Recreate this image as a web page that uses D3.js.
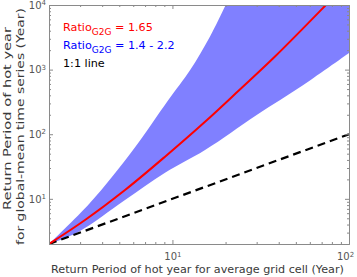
<!DOCTYPE html>
<html>
<head>
<meta charset="utf-8">
<script src="https://cdn.jsdelivr.net/npm/d3@7"></script>
<style>
  body { margin: 0; background: #fff; }
  text { font-family: "DejaVu Sans", sans-serif; }
</style>
</head>
<body>
<svg width="357" height="277"></svg>
<script>
// values (return periods, years)
const ratioX = [2, 3.2, 5.39, 9.08, 15.3, 24.1, 38.1, 73.1, 83.4];
const ratioY = [2, 4.7, 13.7, 44.9, 156, 493, 1596, 9660, 14060];

const upperX = [2, 3.41, 5.98, 9.48, 12.6, 16.3, 19.9, 21.2];
const upperY = [2, 8.6, 57, 339, 987, 3240, 9660, 13960];

const lowerX = [2, 2.93, 5.39, 9.08, 15.3, 30, 55.1, 100];
const lowerY = [2, 3.07, 9.6, 25.4, 57, 199, 579, 1810];

const oneX = [2, 100];
const oneY = [2, 100];

const xTicks = [10, 100];
const yTicks = [10, 100, 1000, 10000];
const xMinor = [2, 3, 4, 5, 6, 7, 8, 9, 20, 30, 40, 50, 60, 70, 80, 90];
const yMinor = [2, 3, 4, 5, 6, 7, 8, 9, 20, 30, 40, 50, 60, 70, 80, 90,
  200, 300, 400, 500, 600, 700, 800, 900, 2000, 3000, 4000, 5000, 6000, 7000, 8000, 9000];

const plotL = 49, plotR = 349, plotT = 5, plotB = 244;
const axisColor = "#8a8a8a";
const labelColor = "#3a3a3a";

const x = d3.scaleLog().domain([2, 100]).range([plotL, plotR]);
const y = d3.scaleLog().domain([2, 10000]).range([plotB, plotT]);

const svg = d3.select("svg");

svg.append("clipPath").attr("id", "plot")
  .append("rect")
  .attr("x", plotL).attr("y", plotT)
  .attr("width", plotR - plotL).attr("height", plotB - plotT);

const pts = (xs, ys) => xs.map((v, i) => [v, ys[i]]);

const line = d3.line()
  .x(d => x(d[0]))
  .y(d => y(d[1]))
  .curve(d3.curveCatmullRom);

// blue band between the two ratio bounds, closed through the top-right corner
const upperPath = line(pts(upperX, upperY));
const lowerPath = line(pts(lowerX, lowerY).reverse());
const corner = `L${x(lowerX[lowerX.length - 1])},${y(upperY[upperY.length - 1])}`;
svg.append("path")
  .attr("clip-path", "url(#plot)")
  .attr("d", upperPath + corner + lowerPath.replace(/^M/, "L") + "Z")
  .attr("fill", "#8080ff");

svg.append("path")
  .attr("clip-path", "url(#plot)")
  .attr("d", line(pts(oneX, oneY)))
  .attr("fill", "none")
  .attr("stroke", "#000")
  .attr("stroke-width", 2.2)
  .attr("stroke-dasharray", "8,5");

svg.append("path")
  .attr("clip-path", "url(#plot)")
  .attr("d", line(pts(ratioX, ratioY)))
  .attr("fill", "none")
  .attr("stroke", "#ff0000")
  .attr("stroke-width", 2);

// axes, ticks pointing inward on all four sides
function styleAxis(g) {
  g.select(".domain").attr("stroke", axisColor);
  g.selectAll(".tick line").attr("stroke", axisColor);
}

function addAxis(axis, tx, ty, values, size) {
  return svg.append("g")
    .attr("transform", `translate(${tx},${ty})`)
    .call(axis.tickValues(values).tickSizeInner(-size).tickSizeOuter(0)
      .tickFormat(""))
    .call(styleAxis);
}

addAxis(d3.axisBottom(x), 0, plotB, xMinor, 2);
addAxis(d3.axisTop(x), 0, plotT, xMinor, 2);
addAxis(d3.axisLeft(y), plotL, 0, yMinor, 2);
addAxis(d3.axisRight(y), plotR, 0, yMinor, 2);
addAxis(d3.axisTop(x), 0, plotT, xTicks, 4);
addAxis(d3.axisRight(y), plotR, 0, yTicks, 4);

function powerLabels(g) {
  g.selectAll(".tick text")
    .attr("fill", "#555")
    .attr("font-size", 10)
    .text(null)
    .each(function(d) {
      const t = d3.select(this);
      t.append("tspan").text("10");
      t.append("tspan").attr("dy", "-0.5em").attr("font-size", 7)
        .text(Math.round(Math.log10(d)));
    });
}

svg.append("g")
  .attr("transform", `translate(0,${plotB})`)
  .call(d3.axisBottom(x).tickValues(xTicks).tickSizeInner(-4).tickSizeOuter(0)
    .tickPadding(9))
  .call(styleAxis)
  .call(powerLabels)
  .call(g => g.selectAll(".tick text").filter(d => d === 100).attr("dx", -4));

svg.append("g")
  .attr("transform", `translate(${plotL},0)`)
  .call(d3.axisLeft(y).tickValues(yTicks).tickSizeInner(-4).tickSizeOuter(0)
    .tickPadding(3))
  .call(styleAxis)
  .call(powerLabels);

// axis titles
svg.append("text")
  .attr("x", (plotL + plotR) / 2 - 1.5)
  .attr("y", 273)
  .attr("text-anchor", "middle")
  .attr("font-size", 11.2)
  .attr("fill", labelColor)
  .text("Return Period of hot year for average grid cell (Year)");

svg.append("text")
  .attr("transform", "translate(11,118.5) rotate(-90)")
  .attr("text-anchor", "middle")
  .attr("font-size", 11.3)
  .attr("fill", labelColor)
  .attr("textLength", 183)
  .attr("lengthAdjust", "spacingAndGlyphs")
  .text("Return Period of hot year");

svg.append("text")
  .attr("transform", "translate(24,126.5) rotate(-90)")
  .attr("text-anchor", "middle")
  .attr("font-size", 11.3)
  .attr("fill", labelColor)
  .attr("textLength", 237)
  .attr("lengthAdjust", "spacingAndGlyphs")
  .text("for global-mean time series (Year)");

// legend text
const legend = [
  { main: "Ratio", sub: "G2G", rest: " = 1.65", color: "#ff0000" },
  { main: "Ratio", sub: "G2G", rest: " = 1.4 - 2.2", color: "#0000ff" },
  { main: "1:1 line", sub: "", rest: "", color: "#000" }
];

legend.forEach((d, i) => {
  const t = svg.append("text")
    .attr("x", 63)
    .attr("y", 30.5 + i * 18.3)
    .attr("font-size", 11.2)
    .attr("fill", d.color);
  t.append("tspan").text(d.main);
  if (d.sub) {
    t.append("tspan").attr("dy", 4).attr("font-size", 9).text(d.sub);
    t.append("tspan").attr("dy", -4).text(d.rest);
  }
});
</script>
</body>
</html>
